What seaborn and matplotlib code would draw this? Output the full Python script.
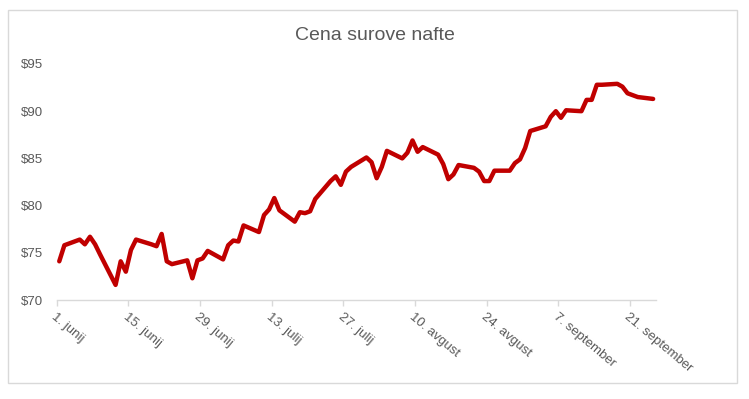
import pandas as pd
import seaborn as sns
import matplotlib.pyplot as plt
from matplotlib.patches import Rectangle

# trading days
dates = [
    '2023-06-01', '2023-06-02', '2023-06-05', '2023-06-06', '2023-06-07', '2023-06-08',
    '2023-06-09', '2023-06-12', '2023-06-13', '2023-06-14', '2023-06-15', '2023-06-16',
    '2023-06-19', '2023-06-20', '2023-06-21', '2023-06-22', '2023-06-23', '2023-06-26',
    '2023-06-27', '2023-06-28', '2023-06-29', '2023-06-30', '2023-07-03', '2023-07-04',
    '2023-07-05', '2023-07-06', '2023-07-07', '2023-07-10', '2023-07-11', '2023-07-12',
    '2023-07-13', '2023-07-14', '2023-07-17', '2023-07-18', '2023-07-19', '2023-07-20',
    '2023-07-21', '2023-07-24', '2023-07-25', '2023-07-26', '2023-07-27', '2023-07-28',
    '2023-07-31', '2023-08-01', '2023-08-02', '2023-08-03', '2023-08-04', '2023-08-07',
    '2023-08-08', '2023-08-09', '2023-08-10', '2023-08-11', '2023-08-14', '2023-08-15',
    '2023-08-16', '2023-08-17', '2023-08-18', '2023-08-21', '2023-08-22', '2023-08-23',
    '2023-08-24', '2023-08-25', '2023-08-28', '2023-08-29', '2023-08-30', '2023-08-31',
    '2023-09-01', '2023-09-04', '2023-09-05', '2023-09-06', '2023-09-07', '2023-09-08',
    '2023-09-11', '2023-09-12', '2023-09-13', '2023-09-14', '2023-09-15', '2023-09-18',
    '2023-09-19', '2023-09-20', '2023-09-21', '2023-09-22', '2023-09-25',
]
prices = [
    74.1, 75.8, 76.4, 75.9, 76.7, 75.9,
    74.8, 71.6, 74.1, 73.0, 75.3, 76.4,
    75.9, 75.7, 77.0, 74.1, 73.8, 74.2,
    72.3, 74.2, 74.4, 75.2, 74.3, 75.8,
    76.3, 76.2, 77.9, 77.2, 79.0, 79.6,
    80.8, 79.5, 78.3, 79.3, 79.2, 79.4,
    80.7, 82.6, 83.1, 82.2, 83.6, 84.1,
    85.1, 84.6, 82.9, 84.1, 85.8, 85.0,
    85.6, 86.9, 85.7, 86.2, 85.4, 84.4,
    82.8, 83.3, 84.3, 84.0, 83.6, 82.6,
    82.6, 83.7, 83.7, 84.5, 84.9, 86.1,
    87.9, 88.4, 89.4, 90.0, 89.3, 90.1,
    90.0, 91.2, 91.2, 92.8, 92.8, 92.9,
    92.6, 91.9, 91.7, 91.5, 91.3,
]

tick_dates = ['2023-06-01', '2023-06-15', '2023-06-29', '2023-07-13', '2023-07-27',
              '2023-08-10', '2023-08-24', '2023-09-07', '2023-09-21']
tick_labels = ['1. junij', '15. junij', '29. junij', '13. julij', '27. julij',
               '10. avgust', '24. avgust', '7. september', '21. september']
y_ticks = [70, 75, 80, 85, 90, 95]

df = pd.DataFrame({'date': pd.to_datetime(dates), 'price': prices})
# Excel date axis puts each point in the middle of its day
df['x'] = df['date'] + pd.Timedelta(hours=12)

sns.set_style('white')
plt.rcParams['font.family'] = ['Liberation Sans', 'DejaVu Sans']

grey = '#595959'
fig = plt.figure(figsize=(7.49, 3.99), dpi=100)
ax = fig.add_axes([0.0757, 0.2481, 0.7997, 0.5915])

sns.lineplot(data=df, x='x', y='price', ax=ax, color='#C00000', linewidth=3.2)

ax.set_xlim(pd.Timestamp('2023-06-01'), pd.Timestamp('2023-09-26'))
ax.set_ylim(70, 95)
ax.set_xticks(pd.to_datetime(tick_dates))
ax.set_xticklabels(tick_labels, rotation=-40, ha='left', rotation_mode='anchor')
ax.set_yticks(y_ticks)
ax.set_yticklabels([f'${v}' for v in y_ticks])
ax.set_xlabel('')
ax.set_ylabel('')

for s in ['left', 'right', 'top']:
    ax.spines[s].set_visible(False)
ax.spines['bottom'].set_color('#d9d9d9')
ax.spines['bottom'].set_linewidth(1)
ax.tick_params(axis='x', colors='#d9d9d9', labelcolor=grey, labelsize=9.5,
               direction='out', length=4, width=1, pad=4, bottom=True)
ax.tick_params(axis='y', labelcolor=grey, labelsize=9.5, length=0, pad=10)
ax.grid(False)

fig.text(0.5, 1 - 35 / 399, 'Cena surove nafte', ha='center', va='center',
         fontsize=14, color=grey)

# chart area border
fig.patches.append(Rectangle((8 / 749, 1 - 383 / 399), 729 / 749, 373 / 399,
                             transform=fig.transFigure, fill=False,
                             edgecolor='#d9d9d9', linewidth=1))

fig.savefig('out.png', dpi=100)
plt.close()
